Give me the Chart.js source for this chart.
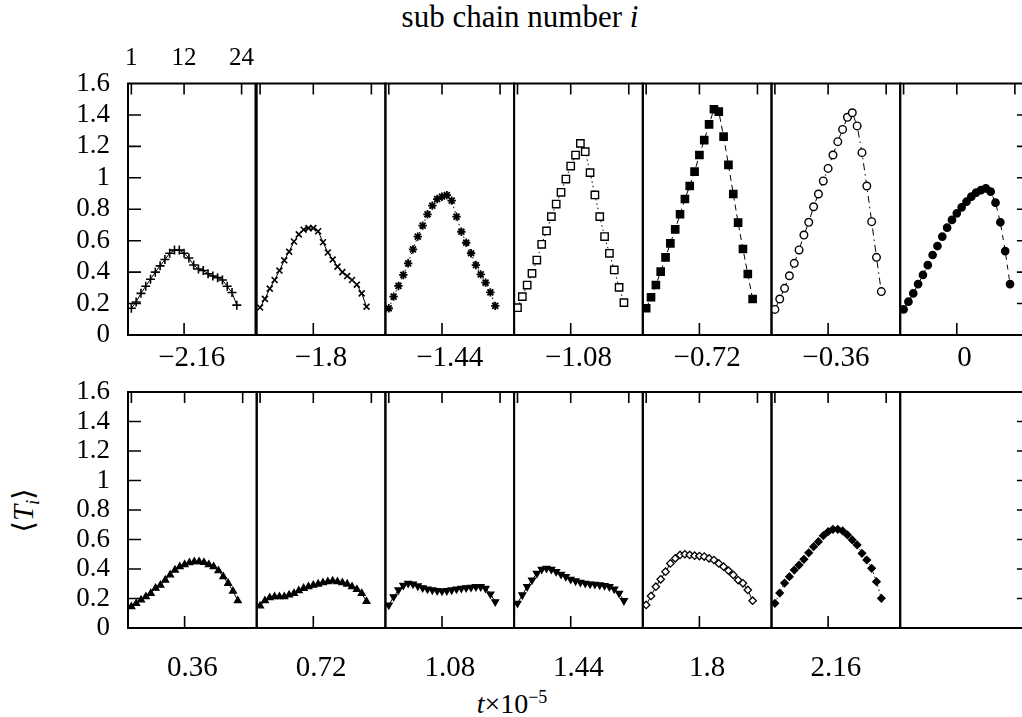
<!DOCTYPE html>
<html><head><meta charset="utf-8">
<script src="https://cdn.jsdelivr.net/npm/chart.js@4.4.0/dist/chart.umd.min.js"></script>
<style>
html,body{margin:0;padding:0;background:#fff;}
#wrap{position:relative;width:1022px;height:717px;overflow:hidden;background:#fff;font-family:"Liberation Serif","DejaVu Serif",serif;color:#000;}
canvas{position:absolute;}
.lbl{position:absolute;white-space:nowrap;text-align:center;}
</style></head><body><div id="wrap">
<div class="lbl" style="left:220px;width:600px;top:1px;font-size:31px;line-height:32px;">sub chain number <i>i</i></div>
<div class="lbl" style="left:-32px;width:120px;top:490px;font-size:29px;line-height:30px;transform:rotate(-90deg);">⟨<i>T<sub style="font-size:19px">i</sub></i>⟩</div>
<div class="lbl" style="left:412px;width:200px;top:682px;font-size:28px;line-height:30px;"><i>t</i>×10<sup style="font-size:18px">−5</sup></div>
</div>
<script>
// ---- data ----
const subChainIdx = [1,2,3,4,5,6,7,8,9,10,11,12,13,14,15,16,17,18,19,20,21,22,23];
const xTickValues = [1,12,24];
const xTickLabels = ['1','12','24'];
const yTickValues = [0,0.2,0.4,0.6,0.8,1,1.2,1.4,1.6];
const yTickLabels = ['0','0.2','0.4','0.6','0.8','1','1.2','1.4','1.6'];
const tTop = ['−2.16','−1.8','−1.44','−1.08','−0.72','−0.36','0'];
const tBottom = ['0.36','0.72','1.08','1.44','1.8','2.16',''];

const T_m216 = [0.17,0.21,0.265,0.31,0.355,0.40,0.44,0.48,0.52,0.54,0.54,0.52,0.49,0.445,0.42,0.41,0.39,0.375,0.365,0.35,0.31,0.27,0.19];
const T_m180 = [0.175,0.23,0.295,0.35,0.41,0.475,0.53,0.595,0.64,0.67,0.68,0.68,0.66,0.59,0.525,0.48,0.435,0.40,0.375,0.35,0.32,0.265,0.18];
const T_m144 = [0.17,0.244,0.312,0.382,0.456,0.545,0.626,0.696,0.768,0.823,0.865,0.88,0.89,0.855,0.753,0.657,0.587,0.52,0.445,0.386,0.333,0.271,0.185];
const T_m108 = [0.174,0.244,0.318,0.392,0.477,0.577,0.662,0.753,0.833,0.908,0.992,1.075,1.145,1.219,1.166,1.033,0.891,0.753,0.626,0.52,0.414,0.303,0.206];
const T_m072 = [0.17,0.24,0.318,0.403,0.494,0.583,0.672,0.768,0.865,0.948,1.039,1.145,1.24,1.34,1.436,1.421,1.262,1.082,0.897,0.715,0.547,0.388,0.229];
const T_m036 = [0.163,0.229,0.297,0.377,0.456,0.541,0.636,0.717,0.816,0.897,0.98,1.06,1.145,1.23,1.308,1.385,1.414,1.33,1.16,0.948,0.721,0.494,0.276];
const T_000 = [0.163,0.212,0.265,0.324,0.382,0.445,0.509,0.566,0.626,0.683,0.732,0.774,0.812,0.848,0.88,0.906,0.922,0.933,0.912,0.842,0.717,0.534,0.324];
const T_036 = [0.145,0.167,0.19,0.212,0.235,0.27,0.29,0.325,0.36,0.393,0.416,0.43,0.443,0.45,0.45,0.445,0.43,0.416,0.389,0.348,0.303,0.25,0.185];
const T_072 = [0.15,0.185,0.205,0.212,0.212,0.212,0.224,0.235,0.253,0.269,0.28,0.29,0.298,0.307,0.314,0.319,0.314,0.307,0.298,0.28,0.262,0.235,0.18];
const T_108 = [0.156,0.212,0.258,0.29,0.303,0.298,0.285,0.273,0.264,0.258,0.253,0.251,0.253,0.258,0.264,0.269,0.273,0.276,0.28,0.28,0.269,0.23,0.178];
const T_144 = [0.167,0.224,0.28,0.325,0.37,0.398,0.405,0.398,0.382,0.364,0.348,0.33,0.319,0.31,0.303,0.298,0.296,0.292,0.287,0.28,0.264,0.235,0.185];
const T_180 = [0.156,0.217,0.28,0.33,0.382,0.438,0.472,0.495,0.5,0.495,0.49,0.488,0.484,0.472,0.461,0.438,0.416,0.389,0.36,0.325,0.303,0.258,0.185];
const T_216 = [0.167,0.237,0.305,0.348,0.393,0.427,0.466,0.51,0.551,0.585,0.626,0.653,0.669,0.669,0.658,0.631,0.597,0.563,0.506,0.461,0.405,0.314,0.201];

// ---- styles ----
const styles = {
  m216:{ps:'cross',r:4.5,fill:false,dash:[],bw:1.6},
  m180:{ps:'crossRot',r:4.2,fill:false,dash:[],bw:1.6},
  m144:{ps:'star',r:4.2,fill:false,dash:[1.5,3],bw:1.8},
  m108:{ps:'rect',r:5.2,fill:false,dash:[1.5,3],bw:1.4},
  m072:{ps:'rect',r:5.2,fill:true,dash:[6,4],bw:1.3},
  m036:{ps:'circle',r:3.8,fill:false,dash:[7,4,1.5,4],bw:1.4},
  z000:{ps:'circle',r:3.7,fill:true,dash:[5,5],bw:1.3},
  p036:{ps:'triangle',r:3.9,fill:true,dash:[],bw:1.3},
  p072:{ps:'triangle',r:3.9,fill:true,dash:[],bw:1.3},
  p108:{ps:'triangle',r:3.9,fill:true,dash:[],rot:180,bw:1.3},
  p144:{ps:'triangle',r:3.9,fill:true,dash:[],rot:180,bw:1.3},
  p180:{ps:'rectRot',r:3.7,fill:false,dash:[],bw:1.3},
  p216:{ps:'rectRot',r:3.7,fill:true,dash:[1.5,3],bw:1.3}
};
const rowsData = [
  [[T_m216,'m216'],[T_m180,'m180'],[T_m144,'m144'],[T_m108,'m108'],[T_m072,'m072'],[T_m036,'m036'],[T_000,'z000']],
  [[T_036,'p036'],[T_072,'p072'],[T_108,'p108'],[T_144,'p144'],[T_180,'p180'],[T_216,'p216'],null]
];
const rowLabels = [tTop, tBottom];

const X0 = 128, PW = 128.7;
const rowGeom = [{top:83.5,bottom:335,labelOff:23},{top:392,bottom:628,labelOff:40}];
const M = 8, TITLE_H = 60, FONT = '"Liberation Serif", "Times New Roman", serif';

function framePlugin(cfg){
  return {id:'frame', afterDraw(chart){
    const {ctx, chartArea:a, scales} = chart;
    const xs = scales.x, ys = scales.y;
    ctx.save();
    ctx.strokeStyle = '#000';
    ctx.lineWidth = 2;
    ctx.strokeRect(a.left, a.top, a.right - a.left, a.bottom - a.top);
    ctx.lineWidth = 1.6;
    ctx.beginPath();
    if (cfg.topTicks) xTickValues.forEach(v=>{const px=xs.getPixelForValue(v); ctx.moveTo(px,a.top); ctx.lineTo(px,a.top+11);});
    if (cfg.bottomTick) {const px=xs.getPixelForValue(xTickValues[1]); ctx.moveTo(px,a.bottom); ctx.lineTo(px,a.bottom-12);}
    const inner = yTickValues.slice(1,-1);
    if (cfg.left) inner.forEach(v=>{const py=ys.getPixelForValue(v); ctx.moveTo(a.left,py); ctx.lineTo(a.left+13,py);});
    if (cfg.right) inner.forEach(v=>{const py=ys.getPixelForValue(v); ctx.moveTo(a.right,py); ctx.lineTo(a.right-12,py);});
    ctx.stroke();
    ctx.restore();
  }};
}

const wrap = document.getElementById('wrap');
rowsData.forEach((row, r) => {
  const g = rowGeom[r];
  row.forEach((entry, p) => {
    const left = X0 + p*PW;
    const first = p === 0;
    const topAxis = (r === 0 && first);
    const cLeft = first ? 0 : Math.floor(left - M);
    const cTop = topAxis ? 20 : Math.floor(g.top - (first ? 40 : M));
    const cW = Math.ceil(left + PW + M) - cLeft;
    const cH = Math.ceil(g.bottom + TITLE_H) - cTop;
    const cv = document.createElement('canvas');
    cv.width = cW; cv.height = cH;
    cv.style.left = cLeft + 'px'; cv.style.top = cTop + 'px';
    cv.style.width = cW + 'px'; cv.style.height = cH + 'px';
    wrap.appendChild(cv);

    const datasets = [];
    if (entry) {
      const [vals, key] = entry;
      const s = styles[key];
      datasets.push({
        data: vals.map((v,i)=>({x:subChainIdx[i], y:v})),
        borderColor:'#000', borderWidth:1, borderDash:s.dash, tension:0, fill:false,
        pointStyle:s.ps, pointRadius:s.r, pointRotation:s.rot||0,
        pointBackgroundColor: s.fill ? '#000' : '#fff', pointBorderColor:'#000', pointBorderWidth:s.bw
      });
    }
    const axisH = cH - (g.bottom - cTop);
    const titleFont = {family:FONT,size:29};
    const pb = axisH - g.labelOff - 29*1.2/2;
    const scales = {
      x: {type:'linear', position:'bottom', min:0.3, max:26.9, display:true,
          ticks:{display:false}, grid:{display:false, drawTicks:false}, border:{display:false},
          title:{display: !!rowLabels[r][p], text: rowLabels[r][p], color:'#000', font:titleFont, padding:{top:0,bottom:pb}},
          afterFit: s => { s.height = axisH; }},
      y: {type:'linear', min:0, max:1.6, display: first, position:'left',
          afterBuildTicks: s => { s.ticks = yTickValues.map(v=>({value:v})); },
          ticks:{autoSkip:false, color:'#000', font:{family:FONT,size:27}, padding:18,
                 callback:(v,i)=>yTickLabels[i]},
          grid:{display:false, drawTicks:false}, border:{display:false}}
    };
    if (first) scales.y.afterFit = s => { s.width = left - cLeft; };
    if (topAxis) {
      scales.xTop = {type:'linear', position:'top', min:0.3, max:26.9, display:true,
          afterBuildTicks: s => { s.ticks = xTickValues.map(v=>({value:v})); },
          ticks:{autoSkip:false, maxRotation:0, color:'#000', font:{family:FONT,size:25}, padding:10,
                 callback:(v,i)=>xTickLabels[i]},
          grid:{display:false, drawTicks:false}, border:{display:false},
          afterFit: s => { s.height = g.top - cTop; }};
    }
    new Chart(cv, {
      type:'line',
      data:{datasets},
      options:{
        responsive:false, animation:false, events:[],
        layout:{autoPadding:false, padding:{left: first?0:(left-cLeft), right: cLeft+cW-(left+PW), top: topAxis?0:(g.top-cTop), bottom:0}},
        plugins:{legend:{display:false}, tooltip:{enabled:false}},
        scales
      },
      plugins:[framePlugin({topTicks: !(r===1 && p===6), bottomTick: !(r===1 && p===6), left:first, right:p===6})]
    });
  });
});
</script>
</body></html>
